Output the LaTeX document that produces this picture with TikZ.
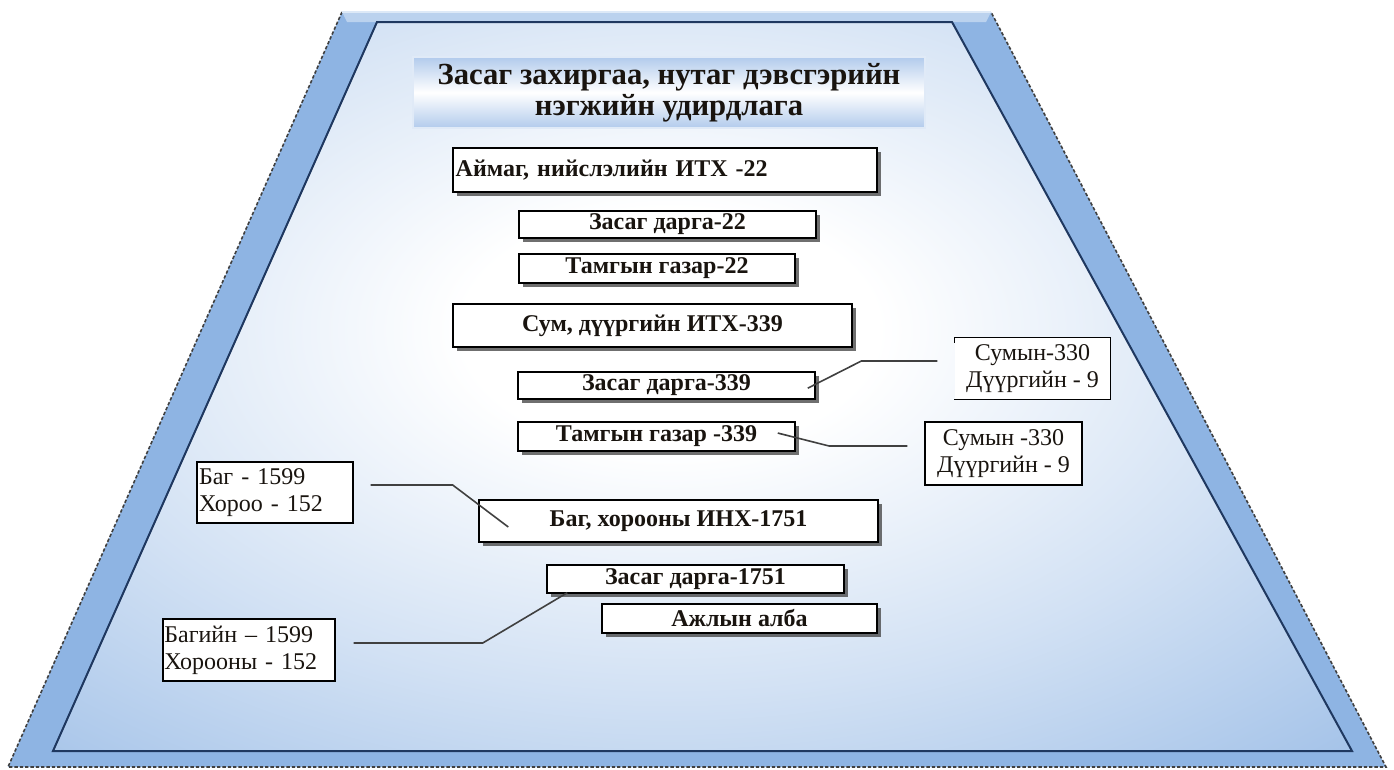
\documentclass[tikz,border=0pt]{standalone}
\usepackage{fontspec}
\setmainfont{Liberation Serif}
\usetikzlibrary{shadows}
\definecolor{bandblue}{RGB}{142,180,227}
\definecolor{edgeblue}{RGB}{31,56,96}
\definecolor{titleblue}{RGB}{178,203,236}
\definecolor{connc}{RGB}{64,64,64}
\definecolor{txt}{RGB}{25,20,15}
\pgfdeclareradialshading{bgshade}{\pgfpoint{0bp}{0bp}}{color(0bp)=(white); color(4bp)=(white); color(12bp)=(bandblue!40!white); color(20bp)=(bandblue!85!white); color(25bp)=(bandblue); color(50bp)=(bandblue)}
\begin{document}
\begin{tikzpicture}[x=0.75pt,y=-0.75pt,
  boldbox/.style={draw=black, line width=1.1pt, fill=white, text=txt,
    font=\bfseries\fontsize{18}{20}\selectfont, inner sep=0pt,
    drop shadow={shadow xshift=3pt, shadow yshift=-3pt, fill=black!75, opacity=0.75}},
  plainbox/.style={draw=black, line width=1.1pt, fill=white, text=txt,
    font=\fontsize{18}{20}\selectfont, inner sep=0pt},
  conn/.style={draw=connc, line width=1.2pt},
]
\useasboundingbox (0,0) rectangle (1394,769);
\fill[white] (0,0) rectangle (1394,769);
% outer trapezoid
\fill[bandblue] (342,12) -- (991,12) -- (1386,767) -- (8,767) -- cycle;
\fill[bandblue!60!white] (342,12) -- (991,12) -- (986,22) -- (347,22) -- cycle;
% inner shaded area
\begin{scope}
  \clip (377,22) -- (952,22) -- (1352,751) -- (53,751) -- cycle;
  \shade[shading=bgshade] (670,330) ellipse (975pt and 570pt);
\end{scope}
\draw[edgeblue, line width=1.5pt, line join=miter] (377,22) -- (952,22) -- (1352,751) -- (53,751) -- cycle;
\draw[black!75, line width=1.2pt, dash pattern=on 2.5pt off 1.5pt] (342,12) -- (8,767) -- (1386,767) -- (991,12);
\draw[white!70!bandblue, line width=1pt] (342,12) -- (991,12);

% title
\node[draw=white!60!titleblue, line width=1pt, top color=titleblue, bottom color=titleblue, middle color=white,
  minimum width=384pt, minimum height=53.25pt, inner sep=0pt, align=center, text=txt,
  font=\bfseries\fontsize{23}{25}\selectfont] (title) at (669,92.5)
  {\raisebox{-2pt}{Засаг захиргаа, нутаг дэвсгэрийн}\\нэгжийн удирдлага};

% bold boxes
\node[boldbox, minimum width=318pt, minimum height=33pt, text width=314pt, align=left] (aimag) at (665,170) {Аймаг, нийслэлийн ИТХ -22};
\node[boldbox, minimum width=222.75pt, minimum height=20.25pt] (zd22) at (667.5,224.5) {Засаг дарга-22};
\node[boldbox, minimum width=207pt, minimum height=21.75pt] (tg22) at (657,268.5) {Тамгын газар-22};
\node[boldbox, minimum width=299.25pt, minimum height=32.25pt] (sum339) at (652.5,325.5) {Сум, дүүргийн ИТХ-339};
\node[boldbox, minimum width=222.75pt, minimum height=20.25pt] (zd339) at (666.5,385.5) {Засаг дарга-339};
\node[boldbox, minimum width=207.75pt, minimum height=21.75pt] (tg339) at (656.5,436.5) {Тамгын газар -339};
\node[boldbox, minimum width=299.25pt, minimum height=31.5pt] (bag339) at (678.5,521) {Баг, хорооны ИНХ-1751};
\node[boldbox, minimum width=222.75pt, minimum height=21pt] (zd1751) at (695.5,579) {Засаг дарга-1751};
\node[boldbox, minimum width=206.25pt, minimum height=21.75pt] (ajil) at (739.5,618.5) {Ажлын алба};

% plain boxes
\node[plainbox, draw=none, minimum width=116.25pt, minimum height=45.75pt, align=center] (s1) at (1032.5,368.5) {Сумын-330\\Дүүргийн - 9};
\draw[black, line width=1.1pt] ([yshift=-4pt]s1.north west) -- (s1.north west) -- (s1.north east) -- (s1.south east) -- (s1.south west);
\node[plainbox, minimum width=117.75pt, minimum height=47.25pt, align=center] (s2) at (1003.5,453.5) {Сумын -330\\Дүүргийн - 9};
\node[plainbox, minimum width=117pt, minimum height=45.75pt, text width=114pt, align=left] (bag1) at (275,492.5) {Баг - 1599\\Хороо - 152};
\node[plainbox, minimum width=129pt, minimum height=46.5pt, text width=127pt, align=left] (bag2) at (249,650) {Багийн – 1599\\Хорооны - 152};

% connectors
\draw[conn] ([xshift=-12.75pt,yshift=5.6pt]s1.west) -- ++(-76,0) -- ([xshift=-6pt,yshift=-2pt]zd339.east);
\draw[conn] ([xshift=-12.75pt,yshift=5.6pt]s2.west) -- ++(-78,0) -- ([xshift=-13.5pt,yshift=2.6pt]tg339.east);
\draw[conn] ([xshift=12.75pt,yshift=5.6pt]bag1.east) -- ++(82,0) -- ([xshift=22.5pt,yshift=-4.5pt]bag339.west);
\draw[conn] ([xshift=13.5pt,yshift=5.25pt]bag2.east) -- ++(129,0) -- ([xshift=15.75pt,yshift=0.75pt]zd1751.south west);
\end{tikzpicture}
\end{document}
